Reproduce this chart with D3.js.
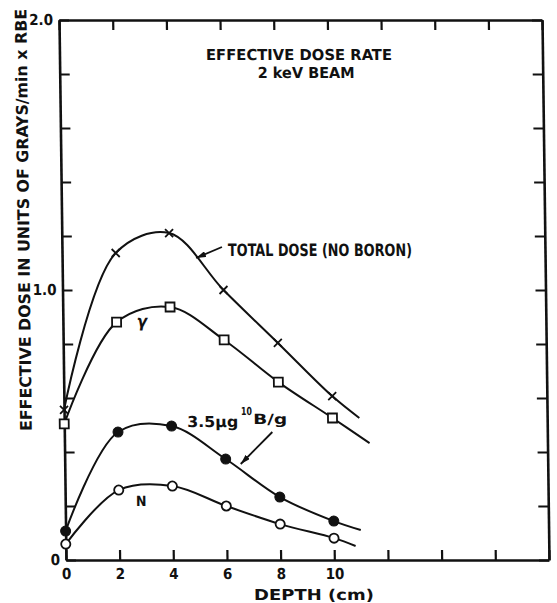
<!DOCTYPE html>
<html>
<head>
<meta charset="utf-8">
<script src="https://cdn.jsdelivr.net/npm/d3@7/dist/d3.min.js"></script>
<style>
  html, body { margin: 0; padding: 0; background: #fff; }
  svg { display: block; }
  text { font-family: "DejaVu Sans Condensed", "Liberation Sans Narrow", "DejaVu Sans", sans-serif; font-weight: bold; fill: #111; }
</style>
</head>
<body>
<script>
// Depth (cm) at which each dose was measured
const depths = [0, 2, 4, 6, 8, 10];

// Effective dose, Grays/min x RBE
const totalDose    = [0.556, 1.137, 1.211, 1.000, 0.804, 0.607];
const gammaDose    = [0.504, 0.881, 0.937, 0.815, 0.659, 0.526];
const boronDose    = [0.107, 0.474, 0.496, 0.374, 0.233, 0.144];
const nitrogenDose = [0.059, 0.259, 0.274, 0.200, 0.133, 0.081];

// Where each fitted curve runs out past the last measurement (total, gamma, boron, N)
const tailDepths = [11.0, 11.37, 11.0, 10.8];
const tailDoses  = [0.526, 0.433, 0.111, 0.052];

// Axis ticks and their labels
const xTicks = [0, 2, 4, 6, 8, 10, 12, 14, 16, 18];
const xTickLabels = ["0", "2", "4", "6", "8", "10"];
const yTicks = [0, 0.2, 0.4, 0.6, 0.8, 1.0, 1.2, 1.4, 1.6, 1.8, 2.0];
const yTickLabels = { 0: "0", 1: "1.0", 2: "2.0" };

const W = 557, H = 603;
const svg = d3.select("body").append("svg").attr("width", W).attr("height", H);
svg.append("rect").attr("width", W).attr("height", H).attr("fill", "#fff");

// Arrowhead used by the curve labels
svg.append("defs").append("marker").attr("id", "arrow")
  .attr("viewBox", "0 0 10 6").attr("refX", 10).attr("refY", 3)
  .attr("markerWidth", 10).attr("markerHeight", 6).attr("markerUnits", "userSpaceOnUse")
  .attr("orient", "auto")
  .append("path").attr("d", "M0,0L10,3L0,6Z").attr("fill", "#111");

// The printed figure leans slightly: verticals drift right going down the page
const lean = 0.74, leanY = 290;
const root = svg.append("g")
  .attr("transform", `translate(${-leanY * Math.tan(lean * Math.PI / 180)},0) skewX(${lean})`);

const x = d3.scaleLinear().domain([0, 18]).range([62.5, 545.5]);
const y = d3.scaleLinear().domain([0, 2.0]).range([560, 20]);

// Axes: ticks point inward on all four sides
const axisStyle = g => {
  g.select(".domain").attr("stroke", "#111").attr("stroke-width", 2.6);
  g.selectAll(".tick line").attr("stroke", "#111").attr("stroke-width", 2.2);
  g.selectAll(".tick text").attr("font-size", 15).attr("fill", "#111")
    .attr("font-family", "DejaVu Sans Condensed, Liberation Sans Narrow, sans-serif")
    .attr("font-weight", "bold");
};

root.append("g").attr("transform", `translate(0,${y(0)})`)
  .call(d3.axisBottom(x).tickValues(xTicks).tickSizeInner(-10).tickSizeOuter(0).tickPadding(8)
    .tickFormat(d => xTickLabels[d / 2] || ""))
  .call(axisStyle);

root.append("g").attr("transform", `translate(0,${y(2.0)})`)
  .call(d3.axisTop(x).tickValues(xTicks).tickSizeInner(-10).tickSizeOuter(0).tickFormat(""))
  .call(axisStyle);

root.append("g").attr("transform", `translate(${x(0)},0)`)
  .call(d3.axisLeft(y).tickValues(yTicks).tickSizeInner(-10).tickSizeOuter(0).tickPadding(6)
    .tickFormat(d => yTickLabels[Math.round(d * 10) / 10] || ""))
  .call(axisStyle);

root.append("g").attr("transform", `translate(${x(18)},0)`)
  .call(d3.axisRight(y).tickValues(yTicks).tickSizeInner(-10).tickSizeOuter(0).tickFormat(""))
  .call(axisStyle);

// Curves and markers
const series = [
  { values: totalDose, marker: "cross" },
  { values: gammaDose, marker: "square" },
  { values: boronDose, marker: "filled" },
  { values: nitrogenDose, marker: "open" }
];

const line = d3.line().x(d => x(d[0])).y(d => y(d[1])).curve(d3.curveCatmullRom.alpha(0.5));
const plot = root.append("g");

series.forEach((s, i) => {
  const pts = depths.map((d, j) => [d, s.values[j]]);
  pts.push([tailDepths[i], tailDoses[i]]);
  plot.append("path").attr("d", line(pts)).attr("fill", "none")
    .attr("stroke", "#111").attr("stroke-width", 2);

  const m = plot.append("g").selectAll("g").data(depths.map((d, j) => [d, s.values[j]])).join("g")
    .attr("transform", d => `translate(${x(d[0])},${y(d[1])})`);
  if (s.marker === "cross") {
    m.append("path").attr("d", "M-4,-4L4,4M-4,4L4,-4").attr("stroke", "#111").attr("stroke-width", 1.8);
  } else if (s.marker === "square") {
    m.append("rect").attr("x", -4.5).attr("y", -4.5).attr("width", 9).attr("height", 9)
      .attr("fill", "#fff").attr("stroke", "#111").attr("stroke-width", 1.8);
  } else if (s.marker === "filled") {
    m.append("circle").attr("r", 5).attr("fill", "#111").attr("stroke", "#111").attr("stroke-width", 1);
  } else {
    m.append("circle").attr("r", 4.6).attr("fill", "#fff").attr("stroke", "#111").attr("stroke-width", 1.8);
  }
});

const arrow = (x1, y1, x2, y2) => root.append("line")
  .attr("x1", x1).attr("y1", y1).attr("x2", x2).attr("y2", y2)
  .attr("stroke", "#111").attr("stroke-width", 1.8).attr("marker-end", "url(#arrow)");

// Titles
root.append("text").attr("x", 302).attr("y", 60).attr("text-anchor", "middle")
  .attr("font-size", 15).attr("textLength", 186).attr("lengthAdjust", "spacingAndGlyphs")
  .text("EFFECTIVE DOSE RATE");
root.append("text").attr("x", 309).attr("y", 78).attr("text-anchor", "middle")
  .attr("font-size", 15).attr("textLength", 97).attr("lengthAdjust", "spacingAndGlyphs")
  .text("2 keV BEAM");

// Curve labels
root.append("text").attr("x", 228.5).attr("y", 256)
  .attr("font-size", 17).attr("textLength", 184).attr("lengthAdjust", "spacingAndGlyphs")
  .text("TOTAL DOSE (NO BORON)");
arrow(222.5, 247, 196.5, 258);

root.append("text").attr("x", 141.5).attr("y", 327).attr("text-anchor", "middle")
  .attr("font-size", 17).attr("font-weight", "normal").attr("font-style", "italic").text("γ");

root.append("text").attr("x", 185.5).attr("y", 427)
  .attr("font-size", 15).attr("textLength", 51).attr("lengthAdjust", "spacingAndGlyphs").text("3.5μg");
root.append("text").attr("x", 239.5).attr("y", 415)
  .attr("font-size", 11).attr("textLength", 11).attr("lengthAdjust", "spacingAndGlyphs").text("10");
root.append("text").attr("x", 251.5).attr("y", 424)
  .attr("font-size", 14).attr("textLength", 34).attr("lengthAdjust", "spacingAndGlyphs").text("B/g");
arrow(270.5, 432, 238.5, 464);

root.append("text").attr("x", 138.5).attr("y", 506).attr("text-anchor", "middle")
  .attr("font-size", 14).text("N");

// Axis titles
root.append("text").attr("x", 250).attr("y", 600)
  .attr("font-size", 15).attr("textLength", 120).attr("lengthAdjust", "spacingAndGlyphs")
  .text("DEPTH (cm)");
root.append("text").attr("transform", "translate(30,220) rotate(-90)").attr("text-anchor", "middle")
  .attr("font-size", 16).attr("textLength", 422).attr("lengthAdjust", "spacingAndGlyphs")
  .text("EFFECTIVE DOSE IN UNITS OF GRAYS/min x RBE");
</script>
</body>
</html>
